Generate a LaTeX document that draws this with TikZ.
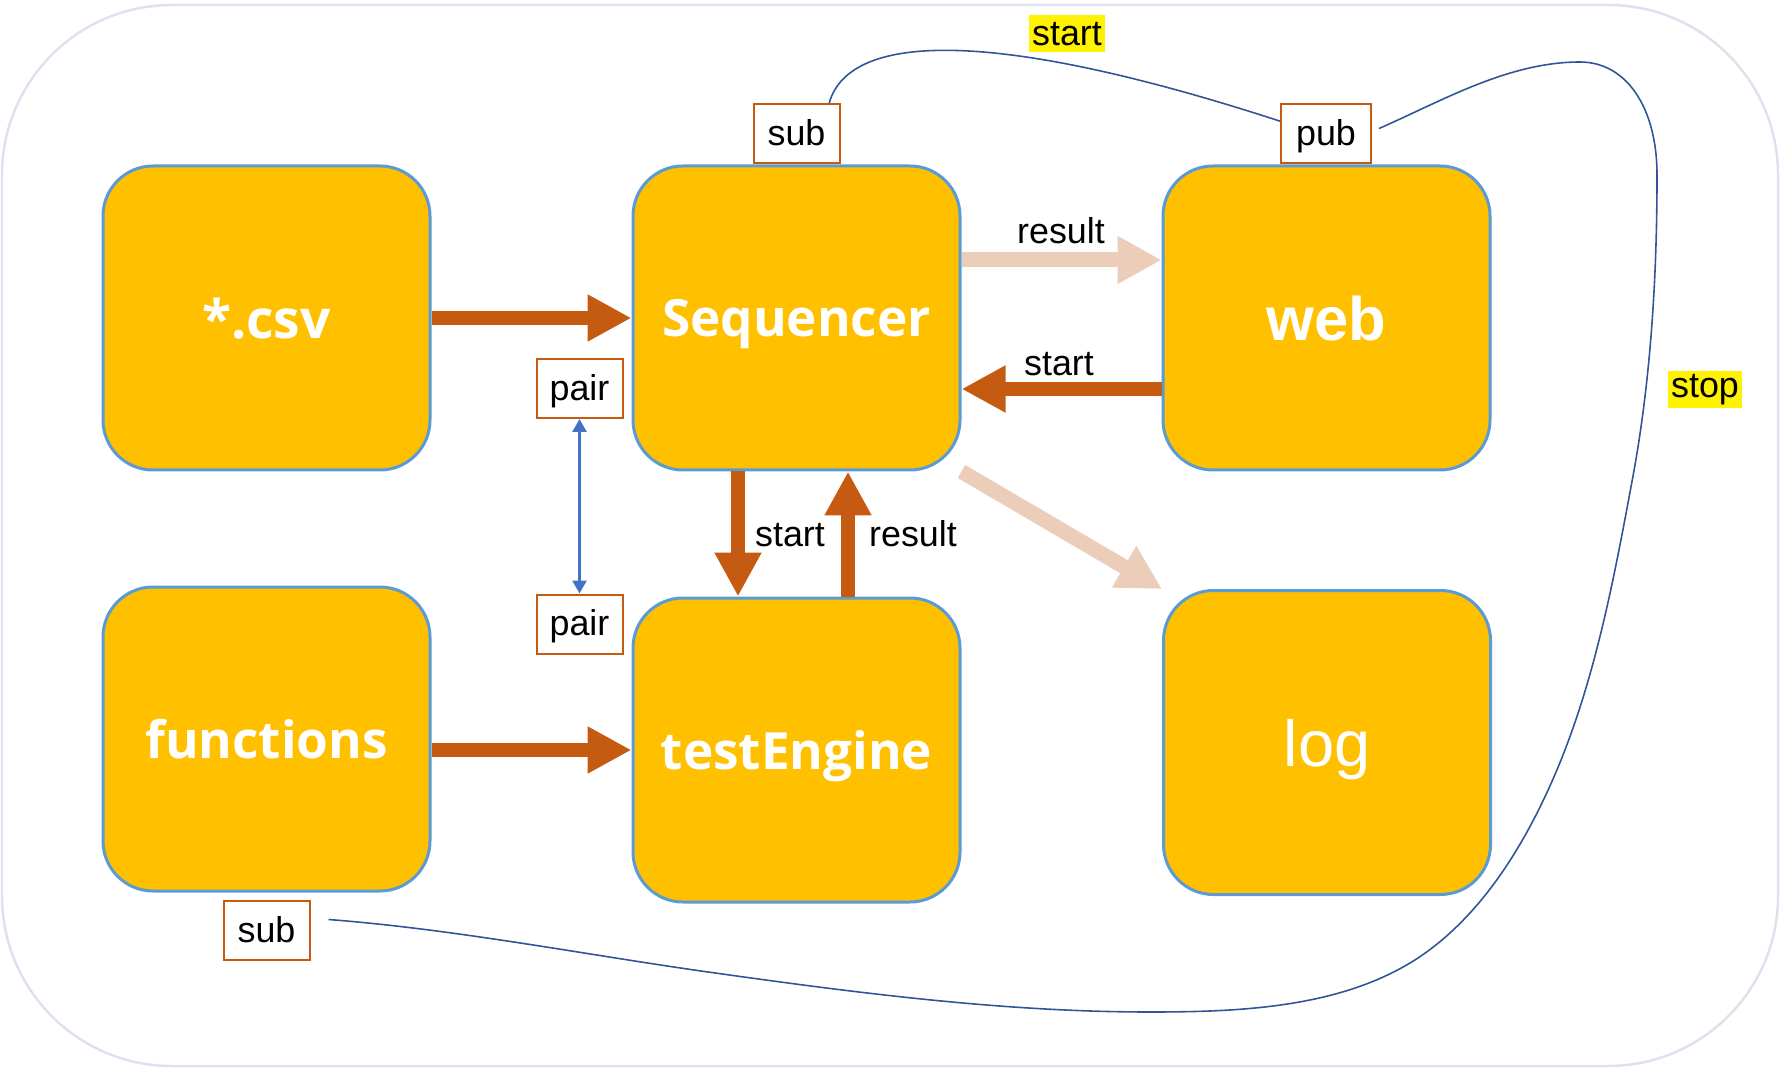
\documentclass[tikz,border=0pt]{standalone}
\usepackage{fontspec}
\setmainfont{Liberation Sans}
\newfontfamily\boxfont{Open Sans}
\usetikzlibrary{arrows.meta,calc}

\definecolor{boxfill}{HTML}{FFC000}
\definecolor{boxline}{HTML}{5B9BD5}
\definecolor{rust}{HTML}{C55A11}
\definecolor{peach}{RGB}{236,205,185}
\definecolor{pairblue}{HTML}{4472C4}
\definecolor{curveblue}{HTML}{2F5597}
\definecolor{framegray}{HTML}{DCE3EE}

\begin{document}
\begin{tikzpicture}[x=0.1mm, y=-0.1mm,
	block/.style={draw=boxline, fill=boxfill, line width=0.3mm, rounded corners=5mm,
		minimum width=3.27cm, minimum height=3.04cm, text=white, text depth=0pt,
		font=\boxfont\bfseries\fontsize{14.6}{17}\selectfont},
	tag/.style={draw=rust, fill=white, line width=0.2mm, minimum width=0.86cm,
		minimum height=0.59cm, inner sep=0pt, text height=9pt, text depth=2.2pt,
		font=\fontsize{10.2}{12}\selectfont},
	lbl/.style={font=\fontsize{10.2}{12}\selectfont, inner sep=0pt},
	hilite/.style={lbl, fill=yellow, inner xsep=1pt, minimum height=0.37cm},
	fat/.style={rust, line width=1.4mm, -{Triangle[length=4.4mm, width=4.4mm]}},
	pale/.style={peach, line width=1.5mm, -{Triangle[length=4.4mm, width=4.5mm]}},
	link/.style={curveblue, line width=0.45pt}]

	\useasboundingbox (0,0) rectangle (1780,1068);
	\draw[framegray, line width=0.25mm, rounded corners=17mm] (2,5) rectangle (1778,1066);

	\node[block, font=\boxfont\bfseries\fontsize{15.2}{17}\selectfont] (csv) at (266.5,318) {*.csv};
	\node[block] (seq) at (796.5,318) {Sequencer};
	\node[block, font=\normalfont\bfseries\fontsize{17.5}{20}\selectfont] (web) at (1326.5,318) {web};
	\node[block] (func) at (266.5,739) {functions};
	\node[block] (engine) at (796.5,750) {testEngine};
	\node[block, font=\normalfont\fontsize{18.5}{21}\selectfont] (log) at (1327,742.5) {log};

	\node[tag] (subtop) at (796.5,133.5) {sub};
	\node[tag, minimum width=0.9cm] (pub) at (1326,133.5) {pub};
	\node[tag] (pairtop) at (579.5,388.5) {pair};
	\node[tag] (pairbot) at (579.5,624) {pair};
	\node[tag] (subbot) at (266.5,930.5) {sub};

	\draw[fat] (csv.east) -- (seq.west);
	\draw[fat] (func.east |- engine.west) -- (engine.west);
	\draw[fat] ($(web.west)+(0,71)$) -- ($(seq.east)+(0,71)$);
	\draw[fat] ($(seq.south)+(-58.5,0)$) -- ($(engine.north)+(-58.5,0)$);
	\draw[fat] ($(engine.north)+(51.5,0)$) -- ($(seq.south)+(51.5,0)$);
	\draw[pale] ($(seq.east)+(0,-58)$) -- ($(web.west)+(0,-58)$);
	\draw[pale] (seq.south east) -- (log.north west);
	\draw[pairblue, line width=0.28mm, {Triangle[length=1.3mm,width=1.4mm]}-{Triangle[length=1.3mm,width=1.4mm]}] (pairtop.south) -- (pairbot.north);

	\node[lbl] (restop) at (1061,231) {result};
	\node[lbl] (startmid) at (1059,364) {start};
	\node[lbl] (startdown) at (790,535) {start};
	\node[lbl] (resup) at (913,534) {result};
	\node[hilite] (starthi) at (1067,34) {start};
	\node[hilite] (stophi) at (1705,390) {stop};

	\draw[link] (subtop.43) .. controls (850,30) and (1000,30) .. (pub.165);
	\draw[link] ($(pub.east)+(7,-5)$) .. controls (1442,101) and (1508,62) .. (1580,62)
		.. controls (1626,62) and (1657,107) .. (1657,175)
		.. controls (1657,275) and (1651,378) .. (1633,476)
		.. controls (1612,589) and (1591,704) .. (1540,807)
		.. controls (1510,868) and (1468,928) .. (1410,963)
		.. controls (1335,1008) and (1238,1012) .. (1150,1012)
		.. controls (1000,1012) and (850,992) .. (701,971)
		.. controls (576,953) and (452,929) .. ($(subbot.east)+(18,-11)$);

\end{tikzpicture}
\end{document}
